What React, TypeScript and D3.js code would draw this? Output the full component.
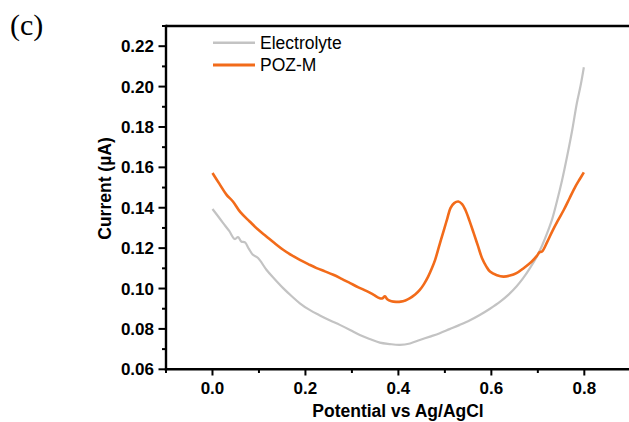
import React from "react";
import * as d3 from "d3";

const electrolyteX = [0, 0.012, 0.023, 0.036, 0.048, 0.055, 0.062, 0.07, 0.078, 0.087, 0.098, 0.116, 0.134, 0.152, 0.17, 0.188, 0.209, 0.23, 0.252, 0.274, 0.296, 0.317, 0.338, 0.36, 0.381, 0.403, 0.425, 0.446, 0.468, 0.489, 0.51, 0.532, 0.554, 0.575, 0.597, 0.619, 0.637, 0.654, 0.668, 0.683, 0.698, 0.709, 0.72, 0.731, 0.741, 0.752, 0.763, 0.774, 0.784, 0.792, 0.799];
const electrolyteY = [0.1394, 0.1358, 0.1324, 0.1285, 0.1245, 0.1255, 0.1233, 0.1228, 0.1198, 0.1167, 0.1151, 0.1093, 0.1046, 0.1002, 0.0963, 0.0927, 0.0894, 0.0868, 0.0843, 0.082, 0.0795, 0.077, 0.075, 0.0732, 0.0725, 0.0721, 0.0728, 0.0745, 0.0762, 0.0779, 0.0799, 0.082, 0.0843, 0.0869, 0.09, 0.0935, 0.097, 0.101, 0.105, 0.1101, 0.1159, 0.1212, 0.1274, 0.1345, 0.1431, 0.1535, 0.1655, 0.1785, 0.1919, 0.2005, 0.2096];

const pozX = [0, 0.015, 0.03, 0.044, 0.06, 0.08, 0.098, 0.116, 0.134, 0.152, 0.17, 0.188, 0.206, 0.224, 0.242, 0.26, 0.278, 0.296, 0.314, 0.332, 0.346, 0.36, 0.366, 0.371, 0.376, 0.385, 0.395, 0.405, 0.415, 0.425, 0.436, 0.446, 0.455, 0.464, 0.472, 0.479, 0.487, 0.498, 0.505, 0.512, 0.52, 0.529, 0.537, 0.544, 0.553, 0.562, 0.571, 0.58, 0.589, 0.597, 0.612, 0.626, 0.64, 0.654, 0.67, 0.687, 0.698, 0.704, 0.709, 0.72, 0.731, 0.743, 0.756, 0.768, 0.781, 0.79, 0.799];
const pozY = [0.1572, 0.1518, 0.1465, 0.1431, 0.1378, 0.1332, 0.1292, 0.1258, 0.1224, 0.1192, 0.1165, 0.1142, 0.1121, 0.1101, 0.1085, 0.1068, 0.1048, 0.1027, 0.1006, 0.0987, 0.097, 0.0952, 0.0952, 0.0962, 0.0947, 0.0937, 0.0934, 0.0935, 0.0941, 0.0952, 0.097, 0.0993, 0.1022, 0.1059, 0.11, 0.1142, 0.1205, 0.1291, 0.1345, 0.1398, 0.1423, 0.1431, 0.1418, 0.139, 0.1335, 0.1274, 0.1212, 0.115, 0.111, 0.1084, 0.1066, 0.1059, 0.1064, 0.1076, 0.1102, 0.1134, 0.1162, 0.118, 0.1183, 0.123, 0.1283, 0.1336, 0.139, 0.1446, 0.1506, 0.1541, 0.1575];

const xTicks = [0, 0.2, 0.4, 0.6, 0.8];
const xMinor = [-0.1, 0.1, 0.3, 0.5, 0.7, 0.9];
const yTicks = [0.06, 0.08, 0.1, 0.12, 0.14, 0.16, 0.18, 0.2, 0.22];
const yMinor = [0.07, 0.09, 0.11, 0.13, 0.15, 0.17, 0.19, 0.21, 0.23];

const seriesNames = ["Electrolyte", "POZ-M"];
const seriesColors = ["#c3c3c3", "#f26b1a"];

export default function App() {
  const x = d3.scaleLinear().domain([-0.1, 0.9]).range([166, 630.8]);
  const y = d3.scaleLinear().domain([0.06, 0.23]).range([369.3, 26]);
  const line = d3
    .line<[number, number]>()
    .x((d) => x(d[0]))
    .y((d) => y(d[1]))
    .curve(d3.curveCatmullRom.alpha(0.5));
  const eData = electrolyteX.map((v, i) => [v, electrolyteY[i]] as [number, number]);
  const pData = pozX.map((v, i) => [v, pozY[i]] as [number, number]);
  const font = "'Liberation Sans', Arial, sans-serif";
  return (
    <svg
      width={629}
      height={422}
      style={{ position: "absolute", left: 0, top: 0, background: "#fff" }}
      fontFamily={font}
    >
      <text x={10} y={35} fontFamily="'Liberation Serif', 'Times New Roman', serif" fontSize={30}>
        (c)
      </text>
      <path d={line(eData) || ""} fill="none" stroke={seriesColors[0]} strokeWidth={2.2} strokeLinejoin="round" />
      <path d={line(pData) || ""} fill="none" stroke={seriesColors[1]} strokeWidth={2.6} strokeLinejoin="round" />
      {/* frame */}
      <line x1={166} x2={640} y1={26} y2={26} stroke="#000" strokeWidth={2.4} />
      <line x1={166} x2={166} y1={24.8} y2={370.5} stroke="#000" strokeWidth={2.4} />
      <line x1={164.8} x2={640} y1={369.3} y2={369.3} stroke="#000" strokeWidth={2.4} />
      {yTicks.map((t) => (
        <g key={"y" + t}>
          <line x1={158.5} x2={166} y1={y(t)} y2={y(t)} stroke="#000" strokeWidth={2} />
          <text x={154} y={y(t)} dy="0.36em" textAnchor="end" fontWeight="bold" fontSize={17}>
            {t.toFixed(2)}
          </text>
        </g>
      ))}
      {yMinor.map((t) => (
        <line key={"ym" + t} x1={162} x2={166} y1={y(t)} y2={y(t)} stroke="#000" strokeWidth={2} />
      ))}
      {xTicks.map((t) => (
        <g key={"x" + t}>
          <line x1={x(t)} x2={x(t)} y1={369.3} y2={375.5} stroke="#000" strokeWidth={2} />
          <text x={x(t)} y={394} textAnchor="middle" fontWeight="bold" fontSize={17}>
            {t.toFixed(1)}
          </text>
        </g>
      ))}
      {xMinor.map((t) => (
        <line key={"xm" + t} x1={x(t)} x2={x(t)} y1={369.3} y2={373} stroke="#000" strokeWidth={2} />
      ))}
      <text x={398} y={417} textAnchor="middle" fontWeight="bold" fontSize={17.5}>
        Potential vs Ag/AgCl
      </text>
      <text
        transform="translate(111,188.5) rotate(-90)"
        textAnchor="middle"
        fontWeight="bold"
        fontSize={17.5}
      >
        Current (µA)
      </text>
      {seriesNames.map((n, i) => (
        <g key={n}>
          <line x1={213} x2={255} y1={42.7 + i * 22.3} y2={42.7 + i * 22.3} stroke={seriesColors[i]} strokeWidth={i === 0 ? 2.4 : 2.8} />
          <text x={260} y={42.7 + i * 22.3} dy="0.36em" fontSize={17.5}>
            {n}
          </text>
        </g>
      ))}
    </svg>
  );
}
